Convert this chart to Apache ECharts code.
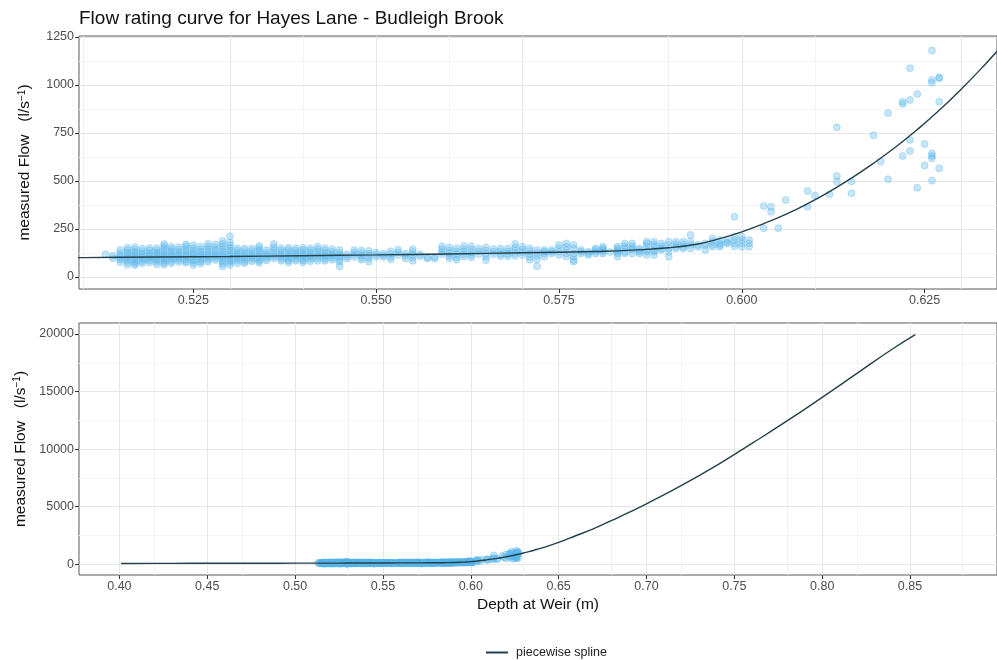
<!DOCTYPE html>
<html>
<head>
<meta charset="utf-8">
<script src="https://cdn.jsdelivr.net/npm/echarts@6/dist/echarts.min.js"></script>
<style>
  html, body { margin: 0; padding: 0; background: #fff; }
  #chart { width: 997px; height: 660px; }
</style>
</head>
<body>
<div id="chart"></div>
<script>
const FONT = '"Liberation Sans", Arial, Helvetica, sans-serif';

// Fitted rating curve: depth at weir (m) -> flow (l/s)
const curveDepth = [0.401, 0.42, 0.44, 0.46, 0.48, 0.50, 0.51, 0.52, 0.53, 0.54, 0.55, 0.56, 0.57, 0.575,
  0.58, 0.585, 0.59, 0.594, 0.597, 0.600, 0.603, 0.606, 0.609, 0.612, 0.615, 0.618, 0.621, 0.624,
  0.627, 0.630, 0.633, 0.636, 0.64, 0.65, 0.66, 0.67, 0.68, 0.69, 0.70, 0.72, 0.74, 0.76, 0.78,
  0.80, 0.82, 0.84, 0.853];
const curveFlow = [75, 80, 85, 89, 94, 98, 101, 104, 107, 111, 115, 120, 126, 129,
  133, 140, 152, 172, 200, 235, 278, 326, 382, 445, 515, 592, 676, 768,
  868, 978, 1096, 1222, 1400, 1900, 2500, 3100, 3800, 4500, 5250, 6850, 8600, 10500, 12450,
  14500, 16600, 18700, 19950];

// Gauged flows, grouped by depth reading (m)
const obsDepth = [0.513, 0.514, 0.515, 0.516, 0.517, 0.518, 0.519, 0.520, 0.521, 0.522, 0.523, 0.524,
  0.525, 0.526, 0.527, 0.528, 0.529, 0.530, 0.531, 0.532, 0.533, 0.534, 0.535, 0.536, 0.537, 0.538,
  0.539, 0.540, 0.541, 0.542, 0.543, 0.544, 0.545, 0.546, 0.547, 0.548, 0.549, 0.550, 0.551, 0.552,
  0.553, 0.554, 0.555, 0.556, 0.557, 0.558, 0.559, 0.560, 0.561, 0.562, 0.563, 0.564, 0.565, 0.566,
  0.567, 0.568, 0.569, 0.570, 0.571, 0.572, 0.573, 0.574, 0.575, 0.576, 0.577, 0.578, 0.579, 0.580,
  0.581, 0.582, 0.583, 0.584, 0.585, 0.586, 0.587, 0.588, 0.589, 0.590, 0.591, 0.592, 0.593, 0.594,
  0.595, 0.596, 0.597, 0.598, 0.599, 0.600, 0.601, 0.603, 0.604, 0.605, 0.606, 0.609, 0.610, 0.612,
  0.613, 0.615, 0.618, 0.619, 0.620, 0.622, 0.623, 0.624, 0.625, 0.626, 0.627];
const obsFlow = [
  [118],
  [110, 98],
  [140, 125, 112, 100, 90, 78],
  [152, 140, 128, 118, 108, 98, 88, 76, 64],
  [155, 142, 130, 120, 110, 100, 90, 80, 70, 62],
  [148, 135, 122, 112, 102, 92, 82, 72],
  [150, 138, 125, 115, 105, 95, 85, 75],
  [150, 138, 128, 118, 108, 98, 88, 78, 65],
  [172, 160, 148, 136, 124, 114, 104, 94, 84, 74, 64],
  [158, 146, 134, 122, 112, 102, 92, 82, 72],
  [155, 142, 130, 118, 108, 98, 88, 78],
  [170, 160, 146, 134, 122, 112, 102, 92, 82, 74],
  [165, 150, 138, 126, 116, 106, 96, 86, 76, 62],
  [158, 145, 132, 120, 110, 100, 90, 80, 70],
  [172, 158, 145, 132, 120, 110, 100, 90, 80],
  [170, 156, 142, 130, 118, 108, 98, 88],
  [188, 172, 158, 145, 132, 120, 110, 100, 90, 80, 68, 55],
  [212, 180, 165, 150, 138, 126, 115, 105, 95, 85, 75, 62],
  [150, 138, 126, 115, 105, 95, 85, 72],
  [148, 136, 124, 112, 102, 92, 82, 72],
  [148, 136, 124, 112, 102, 92, 82],
  [162, 150, 138, 126, 114, 104, 94, 84, 74],
  [140, 128, 116, 106, 96, 86],
  [172, 155, 140, 128, 116, 106, 96],
  [150, 138, 126, 114, 104, 94, 84],
  [152, 140, 128, 116, 106, 96, 86, 76],
  [150, 138, 126, 114, 104, 94, 84],
  [152, 140, 128, 116, 106, 96, 86, 76],
  [150, 138, 126, 114, 104, 94, 82],
  [158, 145, 132, 120, 108, 96, 84],
  [150, 138, 126, 114, 104, 94, 84],
  [145, 132, 120, 110, 100, 90],
  [140, 126, 114, 104, 92, 80, 56],
  [118, 106, 96],
  [140, 128, 116, 104],
  [138, 124, 112, 100, 90],
  [136, 122, 110, 98, 80],
  [128, 116, 106],
  [122, 112, 104],
  [134, 120, 106, 92],
  [142, 128, 114],
  [122, 110, 96],
  [145, 130, 116, 100, 84],
  [118, 108],
  [104, 96],
  [104, 96],
  [160, 145, 130, 118],
  [154, 138, 124, 110, 98],
  [150, 134, 118, 102, 90],
  [162, 146, 132, 118, 106],
  [160, 144, 128, 114, 102],
  [148, 134, 120],
  [154, 138, 122, 106, 88],
  [146, 132, 118],
  [148, 134, 120, 108],
  [148, 134, 120, 108],
  [172, 154, 138, 124, 110],
  [158, 142, 128, 114],
  [150, 136, 120, 104, 90],
  [140, 126, 110, 92, 56],
  [141, 132, 123, 106],
  [141, 132, 123],
  [167, 150, 132, 115],
  [175, 158, 141, 123, 106],
  [167, 150, 123, 106, 89, 80],
  [141, 132, 123],
  [132, 123, 115],
  [149, 141, 132, 123],
  [158, 149, 141, 132, 123],
  [130],
  [158, 149, 141, 132, 123, 106],
  [175, 160, 149, 132, 123],
  [175, 160, 149, 141, 123],
  [149, 141, 132, 123],
  [184, 175, 160, 141, 132, 115],
  [184, 170, 158, 141, 132, 115],
  [175, 160, 149, 141],
  [184, 167, 149, 132, 106],
  [184, 170, 158, 149],
  [184, 170, 158, 149],
  [219, 184, 167, 149],
  [167, 158],
  [175, 165, 141],
  [201, 184, 167, 158],
  [193, 175, 167, 158],
  [193, 180, 175],
  [314, 210, 193, 175, 160],
  [210, 193, 175, 158],
  [193, 175, 158],
  [370, 254],
  [366, 340],
  [254],
  [401],
  [448, 366],
  [424],
  [431],
  [780, 526, 497],
  [497, 436],
  [738],
  [601],
  [853, 509],
  [913, 901, 630],
  [1087, 922, 714, 656],
  [953, 465],
  [693, 580],
  [1179, 1026, 1012, 644, 630, 618, 502],
  [1040, 1035, 913, 566]
];

// Axis ticks and grid lines
const zoomXTicks = [0.525, 0.55, 0.575, 0.6, 0.625];
const zoomXMinor = [0.5125, 0.5375, 0.5625, 0.5875, 0.6125];
const zoomYTicks = [0, 250, 500, 750, 1000, 1250];
const zoomYMinor = [125, 375, 625, 875, 1125];
const fullXTicks = [0.40, 0.45, 0.50, 0.55, 0.60, 0.65, 0.70, 0.75, 0.80, 0.85];
const fullXMinor = [0.425, 0.475, 0.525, 0.575, 0.625, 0.675, 0.725, 0.775, 0.825, 0.875];
const fullYTicks = [0, 5000, 10000, 15000, 20000];
const fullYMinor = [2500, 7500, 12500, 17500];

const curvePoints = curveDepth.map((d, i) => [d, curveFlow[i]]);
const obsPoints = [];
obsDepth.forEach((d, i) => obsFlow[i].forEach(f => obsPoints.push([d, f])));

const LINE_COLOR = '#24404c';
const PT_FILL = 'rgba(86,180,233,0.42)';

// Panel grid lines drawn as mark lines underneath the data
function gridLines(idx, xs, ys, color, width) {
  return {
    type: 'line', xAxisIndex: idx, yAxisIndex: idx, data: [], silent: true, z: 1,
    markLine: {
      z: 1, silent: true, animation: false, symbol: ['none', 'none'],
      label: { show: false },
      lineStyle: { color: color, width: width, type: 'solid' },
      emphasis: { disabled: true },
      data: xs.map(v => ({ xAxis: v })).concat(ys.map(v => ({ yAxis: v })))
    }
  };
}

const yName = '{t|measured Flow   (l/s}{s|\u22121}{t|)}';
const yNameStyle = {
  rich: {
    t: { fontSize: 15.5, color: '#111', fontFamily: FONT },
    s: { fontSize: 10, color: '#111', fontFamily: FONT, verticalAlign: 'top' }
  }
};
const tickStyle = { show: true, inside: false, length: 4, lineStyle: { color: '#333', width: 1 } };
const labelStyle = { color: '#4d4d4d', fontSize: 12.5, fontFamily: FONT };
const hiddenLine = { show: false, onZero: false };

const chart = echarts.init(document.getElementById('chart'), null, { renderer: 'canvas' });
chart.setOption({
  animation: false,
  backgroundColor: '#fff',
  title: {
    text: 'Flow rating curve for Hayes Lane - Budleigh Brook',
    left: 74, top: 4,
    textStyle: { fontSize: 19, fontWeight: 'normal', color: '#111', fontFamily: FONT }
  },
  legend: {
    left: 481, top: 641, itemWidth: 22, itemHeight: 2, itemGap: 8, selectedMode: false,
    data: [{ name: 'piecewise spline', icon: 'rect' }],
    textStyle: { fontSize: 12.5, color: '#222', fontFamily: FONT, padding: [0, 0, 0, 3] }
  },
  grid: [
    { left: 79, top: 36, width: 919, height: 253, show: true, borderColor: '#5a5a5a', borderWidth: 1, backgroundColor: 'transparent' },
    { left: 79, top: 323, width: 919, height: 252, show: true, borderColor: '#5a5a5a', borderWidth: 1, backgroundColor: 'transparent' }
  ],
  xAxis: [
    {
      gridIndex: 0, type: 'value', min: 0.50936, max: 0.6349,
      axisLine: hiddenLine, splitLine: { show: false },
      axisTick: Object.assign({ customValues: zoomXTicks }, tickStyle),
      axisLabel: Object.assign({ customValues: zoomXTicks, margin: 5, formatter: v => v.toFixed(3) }, labelStyle)
    },
    {
      gridIndex: 1, type: 'value', min: 0.377, max: 0.8995,
      axisLine: hiddenLine, splitLine: { show: false },
      axisTick: Object.assign({ customValues: fullXTicks }, tickStyle),
      axisLabel: Object.assign({ customValues: fullXTicks, margin: 5, formatter: v => v.toFixed(2) }, labelStyle),
      name: 'Depth at Weir (m)', nameLocation: 'middle', nameGap: 22,
      nameTextStyle: { fontSize: 15.5, color: '#111', fontFamily: FONT }
    }
  ],
  yAxis: [
    {
      gridIndex: 0, type: 'value', min: -62.5, max: 1255,
      axisLine: hiddenLine, splitLine: { show: false },
      axisTick: Object.assign({ customValues: zoomYTicks }, tickStyle),
      axisLabel: Object.assign({ customValues: zoomYTicks, margin: 5, formatter: v => String(Math.round(v)) }, labelStyle),
      name: yName, nameLocation: 'middle', nameGap: 46, nameRotate: 90, nameTextStyle: yNameStyle
    },
    {
      gridIndex: 1, type: 'value', min: -930, max: 20957,
      axisLine: hiddenLine, splitLine: { show: false },
      axisTick: Object.assign({ customValues: fullYTicks }, tickStyle),
      axisLabel: Object.assign({ customValues: fullYTicks, margin: 5, formatter: v => String(Math.round(v)) }, labelStyle),
      name: yName, nameLocation: 'middle', nameGap: 46, nameRotate: 90, nameTextStyle: yNameStyle
    }
  ],
  series: [
    gridLines(0, zoomXMinor, zoomYMinor, '#f3f3f3', 1),
    gridLines(0, zoomXTicks, zoomYTicks, '#e6e6e6', 1),
    gridLines(1, fullXMinor, fullYMinor, '#f3f3f3', 1),
    gridLines(1, fullXTicks, fullYTicks, '#e6e6e6', 1),
    {
      type: 'scatter', xAxisIndex: 0, yAxisIndex: 0, data: obsPoints, z: 3,
      symbol: 'circle', symbolSize: 7, silent: true,
      itemStyle: { color: PT_FILL, borderColor: PT_FILL, borderWidth: 1 }
    },
    {
      type: 'scatter', xAxisIndex: 1, yAxisIndex: 1, data: obsPoints, z: 3,
      symbol: 'circle', symbolSize: 7, silent: true,
      itemStyle: { color: PT_FILL, borderColor: PT_FILL, borderWidth: 1 }
    },
    {
      name: 'piecewise spline', type: 'line', xAxisIndex: 0, yAxisIndex: 0, data: curvePoints,
      showSymbol: false, smooth: 0.5, z: 4, silent: true, clip: true,
      lineStyle: { color: LINE_COLOR, width: 1.4 }, itemStyle: { color: LINE_COLOR }
    },
    {
      name: 'piecewise spline', type: 'line', xAxisIndex: 1, yAxisIndex: 1, data: curvePoints,
      showSymbol: false, smooth: 0.5, z: 4, silent: true, clip: true,
      lineStyle: { color: LINE_COLOR, width: 1.4 }, itemStyle: { color: LINE_COLOR }
    }
  ]
});
</script>
</body>
</html>
